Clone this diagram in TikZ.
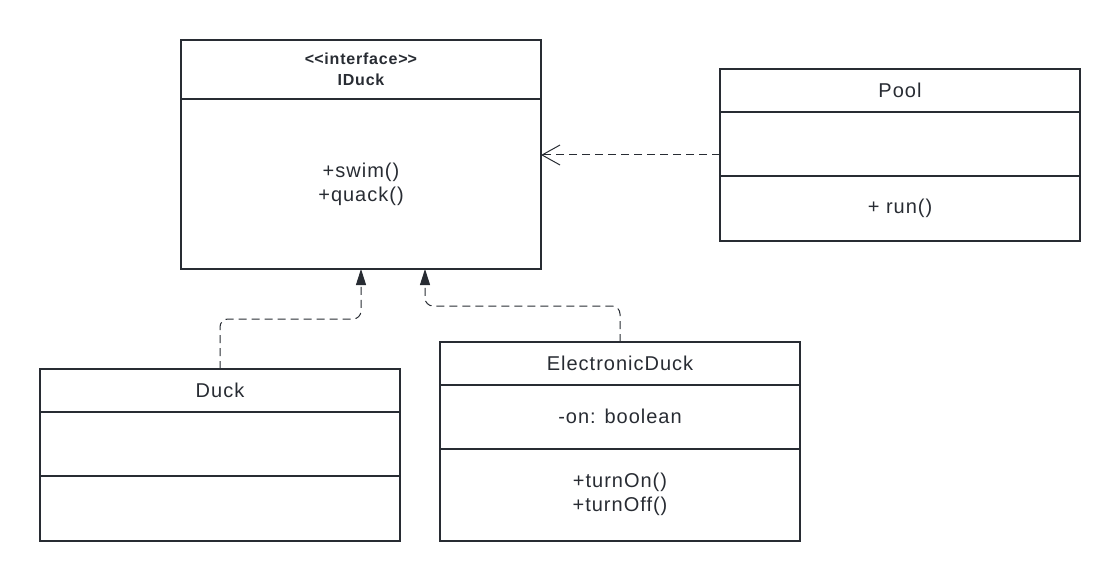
\documentclass[tikz,border=0pt]{standalone}
\usepackage{fontspec}
\setmainfont{Liberation Sans}[LetterSpace=5]
\usepackage{tikz}
\usetikzlibrary{arrows.meta,positioning}
\definecolor{umlgray}{HTML}{282C33}

\begin{document}
\begin{tikzpicture}[x=0.75pt,y=-0.75pt,
part/.style={draw=umlgray,line width=1.5pt,rectangle,minimum width=270pt,outer sep=0pt,inner sep=0pt,align=center,text=umlgray,font=\fontsize{15}{18}\selectfont},
realize/.style={draw=umlgray,line width=0.75pt,dash pattern=on 6pt off 3.75pt,rounded corners=6pt,-{Triangle[length=12pt,width=7.5pt]}},
dependency/.style={draw=umlgray,line width=0.75pt,dash pattern=on 6pt off 3.75pt,-{Straight Barb[length=13.5pt,width=15pt]}}]
\useasboundingbox (0,0) rectangle (1120,581);
\node[part,anchor=north west,minimum height=44.25pt,font=\bfseries\fontsize{12}{15.75}\selectfont] (ihead) at (181,40) {<\kern0pt<interface>\kern0pt>\\IDuck};
\node[part,below=0pt of ihead,minimum height=127.5pt] (ibody) {+swim()\\+quack()};
\node[part,anchor=north west,minimum height=32pt] (poolhead) at (720,69) {Pool};
\node[part,below=0pt of poolhead,minimum height=48.25pt] (poolattr) {};
\node[part,below=0pt of poolattr,minimum height=48.75pt] (poolops) {+ run()};
\node[part,anchor=north west,minimum height=32pt] (duckhead) at (40,369) {Duck};
\node[part,below=0pt of duckhead,minimum height=48pt] (duckattr) {};
\node[part,below=0pt of duckattr,minimum height=48.75pt] (duckops) {};
\node[part,anchor=north west,minimum height=32pt] (edhead) at (440,342) {ElectronicDuck};
\node[part,below=0pt of edhead,minimum height=48pt] (edattr) {-on: boolean};
\node[part,below=0pt of edattr,minimum height=69pt] (edops) {+turnOn()\\+turnOff()};
\coordinate (ipin) at (425,269);
\coordinate (poolpin) at (720,155);
\draw[realize] (duckhead.north) -- ++(0,-50) -| (ibody.south);
\draw[realize] (edhead.north) -- ++(0,-36) -| (ipin);
\draw[dependency] (poolpin) -- (poolpin -| ibody.east);
\end{tikzpicture}
\end{document}
